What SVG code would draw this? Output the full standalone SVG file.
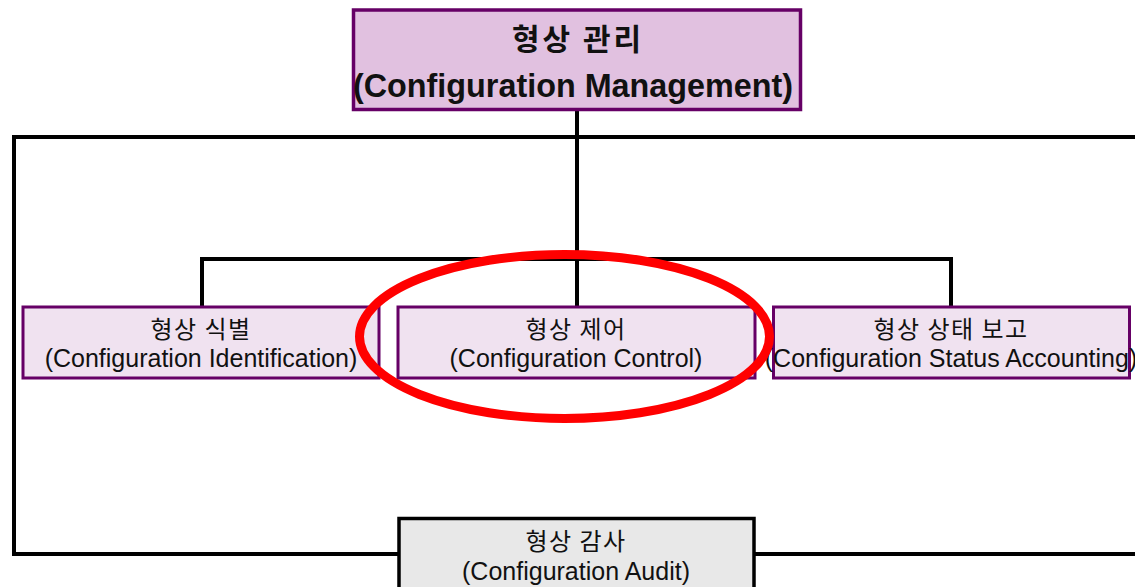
<svg xmlns="http://www.w3.org/2000/svg" width="1135" height="587" viewBox="0 0 1135 587">
  <style>
    .wire { fill: none; stroke: #000; stroke-width: 4; stroke-linejoin: miter; }
    .root { fill: #e1c1e0; stroke: #660066; stroke-width: 3.5; }
    .leaf { fill: #f0e2f0; stroke: #660066; stroke-width: 3; }
    .audit { fill: #e8e8e8; stroke: #000; stroke-width: 3.5; }
    .ko { font-family: "Noto Sans CJK KR", "Noto Sans", sans-serif; font-size: 24px; fill: #111; text-anchor: middle; letter-spacing: 1.5px; }
    .en { font-family: "Liberation Sans", Arial, sans-serif; font-size: 25px; fill: #111; text-anchor: middle; }
    .ko-b { font-family: "Noto Sans CJK KR", "Noto Sans", sans-serif; font-size: 30px; font-weight: bold; fill: #111; text-anchor: middle; letter-spacing: 3px; }
    .en-b { font-family: "Liberation Sans", Arial, sans-serif; font-size: 33px; font-weight: bold; fill: #111; }
    .mark { fill: none; stroke: #ff0000; stroke-width: 9; }
  </style>

  <!-- connectors -->
  <g id="connectors">
    <path class="wire" d="M577,111 V306"/>
    <path class="wire" d="M1137,137 H14 V554 H1137"/>
    <path class="wire" d="M202,306 V259 H951 V306"/>
  </g>

  <!-- root -->
  <g id="node-cm">
    <rect class="root" x="353.5" y="10" width="447" height="99.5"/>
    <text class="ko-b" x="578" y="50">형상 관리</text>
    <text class="en-b" x="353" y="97" textLength="440" lengthAdjust="spacingAndGlyphs">(Configuration Management)</text>
  </g>

  <!-- children -->
  <g id="node-ci">
    <rect class="leaf" x="23" y="307" width="356" height="71"/>
    <text class="ko" x="201" y="338">형상 식별</text>
    <text class="en" x="201" y="367">(Configuration Identification)</text>
  </g>

  <g id="node-cc">
    <rect class="leaf" x="398" y="307" width="357" height="71"/>
    <text class="ko" x="576" y="338">형상 제어</text>
    <text class="en" x="576" y="367">(Configuration Control)</text>
  </g>

  <g id="node-csa">
    <rect class="leaf" x="773.5" y="307" width="356" height="71"/>
    <text class="ko" x="951" y="338">형상 상태 보고</text>
    <text class="en" x="951" y="367">(Configuration Status Accounting)</text>
  </g>

  <g id="node-ca">
    <rect class="audit" x="399" y="518.5" width="355" height="100"/>
    <text class="ko" x="576" y="550">형상 감사</text>
    <text class="en" x="576" y="580">(Configuration Audit)</text>
  </g>

  <!-- highlight around configuration control -->
  <g id="highlight">
    <ellipse class="mark" cx="564.5" cy="336.5" rx="205" ry="82"/>
  </g>
</svg>
